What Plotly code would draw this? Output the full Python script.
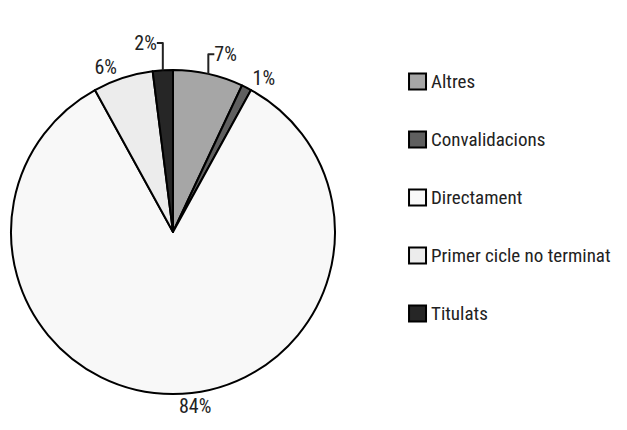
import plotly.graph_objects as go

categories = ['Altres', 'Convalidacions', 'Directament', 'Primer cicle no terminat', 'Titulats']
values = [7, 1, 84, 6, 2]
colors = ['#a6a6a6', '#5f5f5f', '#f8f8f8', '#ececec', '#262626']

FONT = 'Roboto Condensed, Roboto, sans-serif'

fig = go.Figure()

# the pie itself
fig.add_trace(go.Pie(
    labels=categories,
    values=values,
    sort=False,
    direction='clockwise',
    rotation=0,
    marker=dict(colors=colors, line=dict(color='black', width=2)),
    textinfo='percent',
    texttemplate='%{percent:.0%}',
    textposition='outside',
    textfont=dict(family=FONT, size=20, color='#222'),
    showlegend=False,
    domain=dict(x=[0.0048, 0.5215], y=[0.0, 0.958]),
))

# legend drawn by hand so the spacing matches
for i, (cat, col) in enumerate(zip(categories, colors)):
    yc = 0.829 - i * 0.1349
    fig.add_shape(type='rect', xref='paper', yref='paper',
                  x0=0.6396, x1=0.6667, y0=yc - 0.0186, y1=yc + 0.0186,
                  fillcolor=col, line=dict(color='black', width=2))
    fig.add_annotation(x=0.672, y=yc, xref='paper', yref='paper',
                       text=cat, showarrow=False, xanchor='left', yanchor='middle',
                       font=dict(family=FONT, size=19, color='#222'))

fig.update_layout(
    width=627,
    height=430,
    margin=dict(l=0, r=0, t=0, b=0, autoexpand=False),
    paper_bgcolor='white',
    plot_bgcolor='white',
)

fig.write_html('out.html')
